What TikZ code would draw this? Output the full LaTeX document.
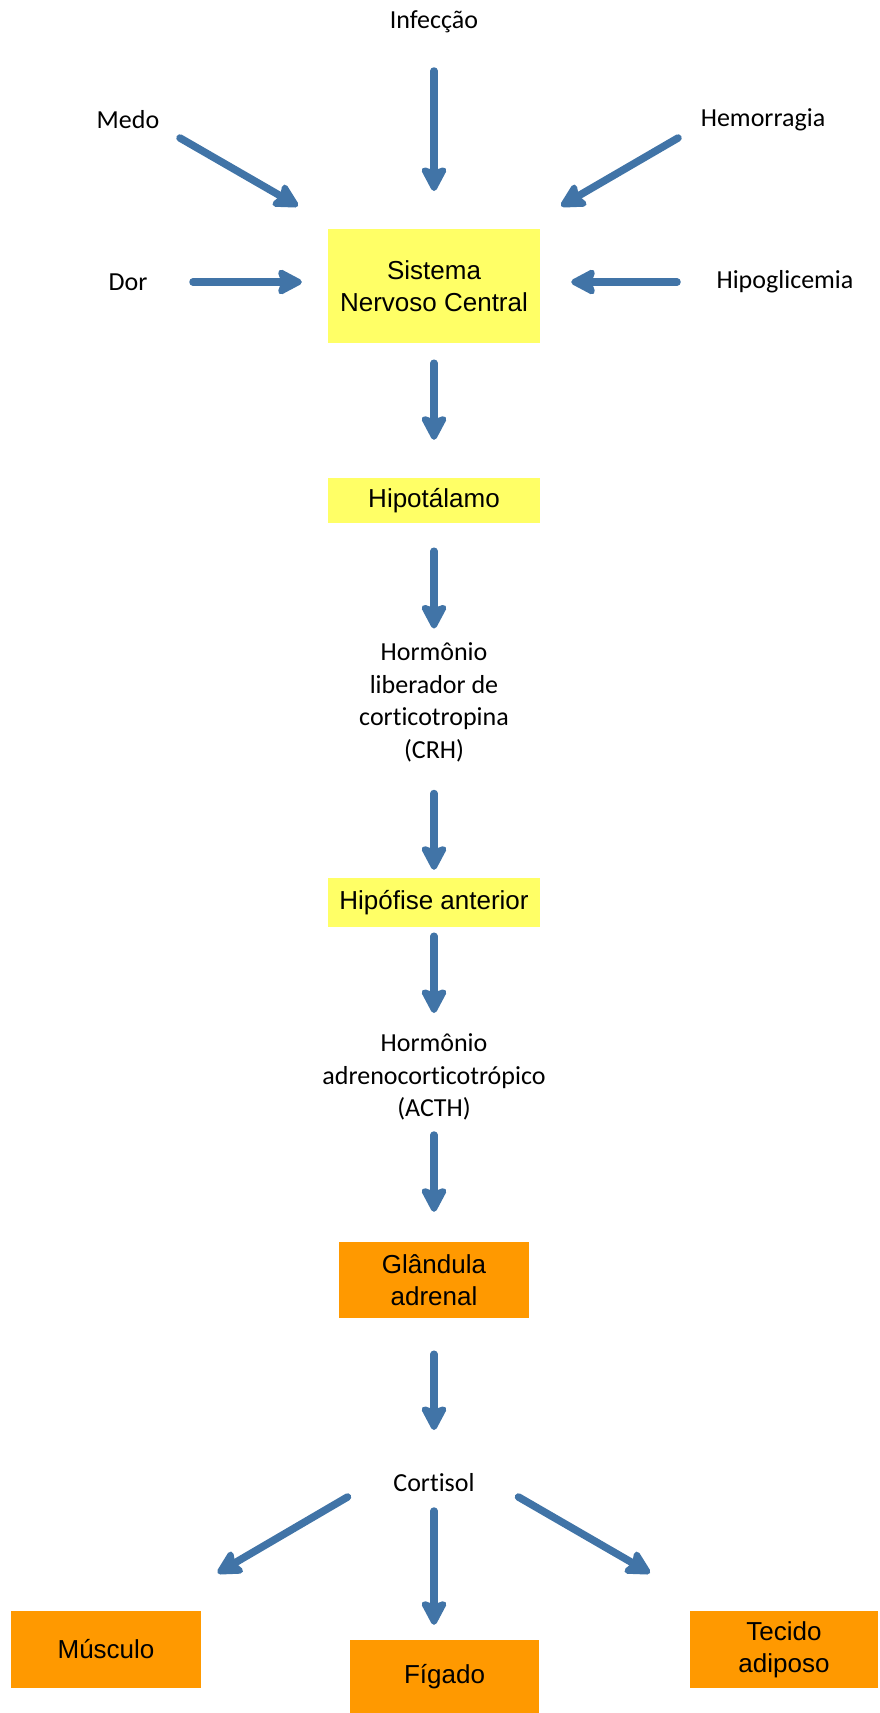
\documentclass[tikz,border=0pt]{standalone}
\usepackage{fontspec}
\setmainfont{Liberation Sans}
\newfontfamily\calfont[Ligatures={NoCommon}]{Carlito}
\usetikzlibrary{arrows.meta}
\definecolor{arrblue}{RGB}{65,116,167}
\definecolor{boxyellow}{RGB}{255,255,102}
\definecolor{boxorange}{RGB}{255,153,0}
\tikzset{
  arr/.style={draw=arrblue, line width=7.5pt, line cap=round,
    -{Stealth[length=29pt, width=30pt, inset=5pt, round=false]}},
  lbl/.style={font=\calfont\fontsize{26}{32.5}\selectfont, align=center, inner sep=0pt},
  ybox/.style={fill=boxyellow, inner sep=0pt, align=center, font=\fontsize{26}{32}\selectfont, minimum width=212pt},
  obox/.style={fill=boxorange, inner sep=0pt, align=center, font=\fontsize{26}{32}\selectfont}
}
\begin{document}
\begin{tikzpicture}[x=1pt, y=-1pt]
\useasboundingbox (0,0) rectangle (879,1713);
% labels
\node[lbl] (inf) at (434,22) {Infecção};
\node[lbl] (medo) at (128,120) {Medo};
\node[lbl] (hem) at (763,120) {Hemorragia};
\node[lbl] (dor) at (128,282) {Dor};
\node[lbl] (hipog) at (785,282) {Hipoglicemia};
% boxes
\node[ybox, minimum height=114pt] (snc) at (434,286) {Sistema\\Nervoso Central};
\node[ybox, minimum height=45pt] (hipo) at (434,500.5) {Hipotálamo};
\node[lbl] (crh) at (434,702.5) {Hormônio\\liberador de\\corticotropina\\(CRH)};
\node[ybox, minimum height=49pt] (hipof) at (434,902.5) {Hipófise anterior};
\node[lbl] (acth) at (434,1077) {Hormônio\\adrenocorticotrópico\\(ACTH)};
\node[obox, minimum width=190pt, minimum height=76pt] (adr) at (434,1280) {Glândula\\adrenal};
\node[lbl] (cort) at (434,1483) {Cortisol};
\node[obox, minimum width=190pt, minimum height=77pt] (mus) at (106,1649.5) {Músculo};
\node[obox, minimum width=189pt, minimum height=73pt] (fig) at (444.5,1676.5) {Fígado};
\node[obox, minimum width=188pt, minimum height=77pt] (tec) at (784,1649.5) {Tecido\\adiposo};
% free arrow ends
\coordinate (medoA) at (180,138);
\coordinate (medoB) at (298,206);
\coordinate (hemA) at (678,138);
\coordinate (hemB) at (561,206);
\coordinate (cortLA) at (347.5,1497);
\coordinate (cortLB) at (217.5,1573);
\coordinate (cortRA) at (518.5,1497);
\coordinate (cortRB) at (650,1573);
% connectors
\draw[arr, shorten <=49pt, shorten >=95pt] (inf.center) -- (inf.center |- snc.center);
\draw[arr] (medoA) -- (medoB);
\draw[arr] (hemA) -- (hemB);
\draw[arr, shorten <=65pt, shorten >=26pt] (dor.center) -- (dor.center -| snc.west);
\draw[arr, shorten <=108pt, shorten >=31pt] (hipog.center) -- (hipog.center -| snc.east);
\draw[arr, shorten <=20pt, shorten >=38pt] (snc.south) -- (hipo.north);
\draw[arr, shorten <=28pt, shorten >=74pt] (hipo.south) -- (crh.center);
\draw[arr, shorten <=91pt, shorten >=8pt] (crh.center) -- (hipof.north);
\draw[arr, shorten <=9pt, shorten >=64pt] (hipof.south) -- (acth.center);
\draw[arr, shorten <=58pt, shorten >=30pt] (acth.center) -- (adr.north);
\draw[arr, shorten <=36pt, shorten >=53pt] (adr.south) -- (cort.center);
\draw[arr] (cortLA) -- (cortLB);
\draw[arr] (cortRA) -- (cortRB);
\draw[arr, shorten <=28pt, shorten >=15pt] (cort.center) -- (cort.center |- fig.north);
\end{tikzpicture}
\end{document}
